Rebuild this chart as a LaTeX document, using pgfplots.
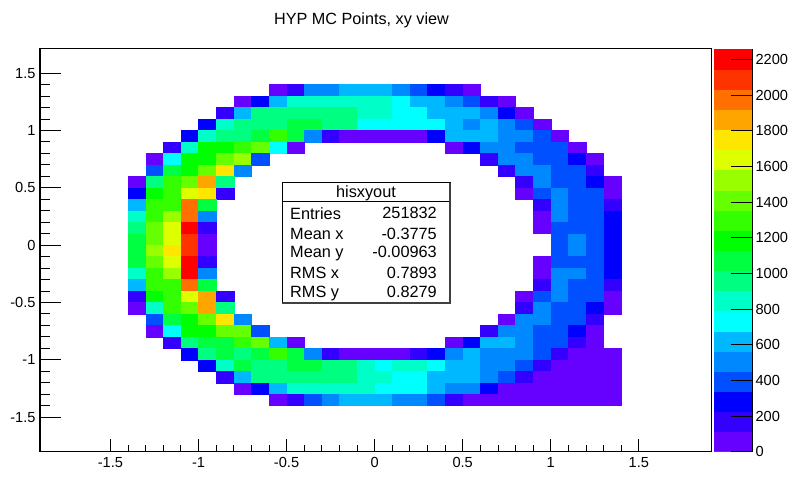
\documentclass[border=0pt]{standalone}
\usepackage{fontspec}
\setmainfont{Liberation Sans}
\usepackage{pgfplots}
\pgfplotsset{compat=1.18}
\newcommand{\tickfont}{\fontsize{14.6}{16}\selectfont}
\pgfplotstableread{
x y z
-0.55 1.35 56
-0.45 1.35 170
-0.35 1.35 508
-0.25 1.35 508
-0.15 1.35 622
-0.05 1.35 622
0.05 1.35 622
0.15 1.35 508
0.25 1.35 396
0.35 1.35 282
0.45 1.35 170
0.55 1.35 56
-0.75 1.25 56
-0.65 1.25 282
-0.55 1.25 622
-0.45 1.25 848
-0.35 1.25 848
-0.25 1.25 848
-0.15 1.25 848
-0.05 1.25 848
0.05 1.25 848
0.15 1.25 734
0.25 1.25 622
0.35 1.25 622
0.45 1.25 508
0.55 1.25 396
0.65 1.25 170
0.75 1.25 56
-0.85 1.15 170
-0.75 1.15 622
-0.65 1.15 960
-0.55 1.15 960
-0.45 1.15 960
-0.35 1.15 960
-0.25 1.15 960
-0.15 1.15 960
-0.05 1.15 848
0.05 1.15 848
0.15 1.15 734
0.25 1.15 734
0.35 1.15 622
0.45 1.15 622
0.55 1.15 622
0.65 1.15 508
0.75 1.15 282
0.85 1.15 56
-0.95 1.05 282
-0.85 1.05 848
-0.75 1.05 960
-0.65 1.05 960
-0.55 1.05 960
-0.45 1.05 1074
-0.35 1.05 1074
-0.25 1.05 960
-0.15 1.05 960
-0.05 1.05 734
0.05 1.05 734
0.15 1.05 734
0.25 1.05 734
0.35 1.05 734
0.45 1.05 622
0.55 1.05 508
0.65 1.05 622
0.75 1.05 508
0.85 1.05 396
0.95 1.05 56
-1.05 0.95 282
-0.95 0.95 848
-0.85 0.95 960
-0.75 0.95 960
-0.65 0.95 1074
-0.55 0.95 1300
-0.45 0.95 1074
-0.35 0.95 508
-0.25 0.95 170
-0.15 0.95 56
-0.05 0.95 56
0.05 0.95 56
0.15 0.95 56
0.25 0.95 56
0.35 0.95 282
0.45 0.95 622
0.55 0.95 622
0.65 0.95 622
0.75 0.95 508
0.85 0.95 508
0.95 0.95 396
1.05 0.95 56
-1.15 0.85 170
-1.05 0.85 848
-0.95 0.85 1186
-0.85 0.85 1186
-0.75 0.85 1300
-0.65 0.85 1412
-0.55 0.85 734
-0.45 0.85 56
0.45 0.85 56
0.55 0.85 282
0.65 0.85 508
0.75 0.85 508
0.85 0.85 396
0.95 0.85 396
1.05 0.85 396
1.15 0.85 56
-1.25 0.75 56
-1.15 0.75 734
-1.05 0.75 1186
-0.95 0.75 1186
-0.85 0.75 1412
-0.75 0.75 1526
-0.65 0.75 396
0.65 0.75 170
0.75 0.75 508
0.85 0.75 508
0.95 0.75 396
1.05 0.75 396
1.15 0.75 282
1.25 0.75 56
-1.25 0.65 396
-1.15 0.65 1074
-1.05 0.65 1186
-0.95 0.65 1412
-0.85 0.65 1752
-0.75 0.65 508
0.75 0.65 170
0.85 0.65 508
0.95 0.65 508
1.05 0.65 396
1.15 0.65 396
1.25 0.65 170
-1.35 0.55 56
-1.25 0.55 960
-1.15 0.55 1300
-1.05 0.55 1412
-0.95 0.55 1864
-0.85 0.55 960
0.85 0.55 170
0.95 0.55 508
1.05 0.55 396
1.15 0.55 396
1.25 0.55 282
1.35 0.55 56
-1.35 0.45 282
-1.25 0.45 1186
-1.15 0.45 1300
-1.05 0.45 1638
-0.95 0.45 1752
-0.85 0.45 170
0.85 0.45 56
0.95 0.45 396
1.05 0.45 508
1.15 0.45 396
1.25 0.45 396
1.35 0.45 56
-1.35 0.35 622
-1.25 0.35 1300
-1.15 0.35 1300
-1.05 0.35 1978
-0.95 0.35 1074
0.95 0.35 170
1.05 0.35 508
1.15 0.35 396
1.25 0.35 396
1.35 0.35 170
-1.35 0.25 848
-1.25 0.25 1300
-1.15 0.25 1526
-1.05 0.25 1978
-0.95 0.25 508
0.95 0.25 56
1.05 0.25 508
1.15 0.25 396
1.25 0.25 396
1.35 0.25 282
-1.35 0.15 960
-1.25 0.15 1412
-1.15 0.15 1638
-1.05 0.15 2204
-0.95 0.15 170
0.95 0.15 56
1.05 0.15 396
1.15 0.15 396
1.25 0.15 396
1.35 0.15 282
-1.35 0.05 1074
-1.25 0.05 1412
-1.15 0.05 1638
-1.05 0.05 2090
-0.95 0.05 56
1.05 0.05 396
1.15 0.05 508
1.25 0.05 396
1.35 0.05 282
-1.35 -0.05 1074
-1.25 -0.05 1526
-1.15 -0.05 1752
-1.05 -0.05 2090
-0.95 -0.05 56
1.05 -0.05 396
1.15 -0.05 508
1.25 -0.05 396
1.35 -0.05 282
-1.35 -0.15 1074
-1.25 -0.15 1412
-1.15 -0.15 1638
-1.05 -0.15 2204
-0.95 -0.15 170
0.95 -0.15 56
1.05 -0.15 396
1.15 -0.15 396
1.25 -0.15 396
1.35 -0.15 282
-1.35 -0.25 848
-1.25 -0.25 1300
-1.15 -0.25 1526
-1.05 -0.25 2204
-0.95 -0.25 508
0.95 -0.25 56
1.05 -0.25 508
1.15 -0.25 508
1.25 -0.25 396
1.35 -0.25 282
-1.35 -0.35 622
-1.25 -0.35 1300
-1.15 -0.35 1300
-1.05 -0.35 1978
-0.95 -0.35 1074
0.95 -0.35 170
1.05 -0.35 508
1.15 -0.35 396
1.25 -0.35 396
1.35 -0.35 170
-1.35 -0.45 170
-1.25 -0.45 1186
-1.15 -0.45 1300
-1.05 -0.45 1638
-0.95 -0.45 1864
-0.85 -0.45 170
0.85 -0.45 56
0.95 -0.45 396
1.05 -0.45 508
1.15 -0.45 396
1.25 -0.45 396
1.35 -0.45 56
-1.35 -0.55 56
-1.25 -0.55 848
-1.15 -0.55 1300
-1.05 -0.55 1412
-0.95 -0.55 1864
-0.85 -0.55 960
0.85 -0.55 170
0.95 -0.55 508
1.05 -0.55 396
1.15 -0.55 396
1.25 -0.55 282
1.35 -0.55 56
-1.25 -0.65 396
-1.15 -0.65 1074
-1.05 -0.65 1186
-0.95 -0.65 1412
-0.85 -0.65 1752
-0.75 -0.65 508
0.75 -0.65 56
0.85 -0.65 508
0.95 -0.65 508
1.05 -0.65 396
1.15 -0.65 396
1.25 -0.65 170
-1.25 -0.75 56
-1.15 -0.75 734
-1.05 -0.75 1186
-0.95 -0.75 1186
-0.85 -0.75 1412
-0.75 -0.75 1412
-0.65 -0.75 396
0.65 -0.75 170
0.75 -0.75 508
0.85 -0.75 508
0.95 -0.75 396
1.05 -0.75 396
1.15 -0.75 282
1.25 -0.75 56
-1.15 -0.85 170
-1.05 -0.85 960
-0.95 -0.85 1074
-0.85 -0.85 1074
-0.75 -0.85 1300
-0.65 -0.85 1412
-0.55 -0.85 622
-0.45 -0.85 56
0.45 -0.85 56
0.55 -0.85 282
0.65 -0.85 622
0.75 -0.85 622
0.85 -0.85 508
0.95 -0.85 396
1.05 -0.85 396
1.15 -0.85 170
1.25 -0.85 56
-1.05 -0.95 282
-0.95 -0.95 960
-0.85 -0.95 1074
-0.75 -0.95 960
-0.65 -0.95 1074
-0.55 -0.95 1300
-0.45 -0.95 1074
-0.35 -0.95 508
-0.25 -0.95 170
-0.15 -0.95 56
-0.05 -0.95 56
0.05 -0.95 56
0.15 -0.95 56
0.25 -0.95 170
0.35 -0.95 282
0.45 -0.95 508
0.55 -0.95 622
0.65 -0.95 508
0.75 -0.95 508
0.85 -0.95 508
0.95 -0.95 396
1.05 -0.95 170
1.15 -0.95 56
1.25 -0.95 56
1.35 -0.95 56
-0.95 -1.05 282
-0.85 -1.05 848
-0.75 -1.05 1074
-0.65 -1.05 960
-0.55 -1.05 960
-0.45 -1.05 1074
-0.35 -1.05 1074
-0.25 -1.05 960
-0.15 -1.05 960
-0.05 -1.05 848
0.05 -1.05 734
0.15 -1.05 848
0.25 -1.05 848
0.35 -1.05 734
0.45 -1.05 622
0.55 -1.05 622
0.65 -1.05 508
0.75 -1.05 508
0.85 -1.05 396
0.95 -1.05 170
1.05 -1.05 56
1.15 -1.05 56
1.25 -1.05 56
1.35 -1.05 56
-0.85 -1.15 170
-0.75 -1.15 622
-0.65 -1.15 960
-0.55 -1.15 960
-0.45 -1.15 960
-0.35 -1.15 960
-0.25 -1.15 960
-0.15 -1.15 960
-0.05 -1.15 848
0.05 -1.15 848
0.15 -1.15 734
0.25 -1.15 734
0.35 -1.15 622
0.45 -1.15 622
0.55 -1.15 622
0.65 -1.15 508
0.75 -1.15 396
0.85 -1.15 170
0.95 -1.15 56
1.05 -1.15 56
1.15 -1.15 56
1.25 -1.15 56
1.35 -1.15 56
-0.75 -1.25 56
-0.65 -1.25 282
-0.55 -1.25 622
-0.45 -1.25 848
-0.35 -1.25 848
-0.25 -1.25 848
-0.15 -1.25 848
-0.05 -1.25 848
0.05 -1.25 734
0.15 -1.25 734
0.25 -1.25 734
0.35 -1.25 622
0.45 -1.25 508
0.55 -1.25 508
0.65 -1.25 282
0.75 -1.25 56
0.85 -1.25 56
0.95 -1.25 56
1.05 -1.25 56
1.15 -1.25 56
1.25 -1.25 56
1.35 -1.25 56
-0.55 -1.35 56
-0.45 -1.35 170
-0.35 -1.35 396
-0.25 -1.35 508
-0.15 -1.35 622
-0.05 -1.35 622
0.05 -1.35 622
0.15 -1.35 508
0.25 -1.35 508
0.35 -1.35 396
0.45 -1.35 170
0.55 -1.35 56
0.65 -1.35 56
0.75 -1.35 56
0.85 -1.35 56
0.95 -1.35 56
1.05 -1.35 56
1.15 -1.35 56
1.25 -1.35 56
1.35 -1.35 56
}\cells
\begin{document}
\begin{tikzpicture}[x=1pt,y=1pt]
\useasboundingbox (-40,-34.3) rectangle (748,451.7);
\begin{axis}[
  at={(0,0)}, anchor=south west, scale only axis,
  width=671pt, height=402.7pt,
  xmin=-1.9, xmax=1.91, ymin=-1.802, ymax=1.71,
  xtick={-1.5,-1,...,1.5}, ytick=\empty,
  minor x tick num=4,
  xtick pos=bottom, tick align=inside,
  major tick length=13pt, minor tick length=7pt,
  tick style={black,line width=0.8pt},
  axis line style={line width=1pt},
  tick label style={font=\tickfont,/pgf/number format/assume math mode=true},
  xticklabel style={yshift=-2pt},
  colormap={rootpal}{
    rgb255=(102,0,255) rgb255=(51,0,255) rgb255=(0,0,255) rgb255=(0,80,255)
    rgb255=(0,136,255) rgb255=(0,184,255) rgb255=(0,255,255) rgb255=(0,255,200)
    rgb255=(0,255,128) rgb255=(0,255,64) rgb255=(0,255,0) rgb255=(51,255,0)
    rgb255=(102,255,0) rgb255=(153,255,0) rgb255=(221,255,0) rgb255=(255,230,0)
    rgb255=(255,165,0) rgb255=(255,112,0) rgb255=(255,51,0) rgb255=(255,0,0)},
  colormap access=piecewise constant,
  point meta min=0, point meta max=2260,
  colorbar sampled,
  colorbar style={
    samples=21,
    at={(1.0045,0)}, anchor=south west,
    width=38pt, height=403pt,
    axis x line=none, axis y line*=right,
    ytick={0,200,...,2200},
    tick align=inside, major tick length=21pt,
    tick style={black,line width=0.8pt},
    axis line style={line width=0.9pt},
    yticklabel style={font=\tickfont,xshift=0pt,
      /pgf/number format/1000 sep={},/pgf/number format/assume math mode=true},
  },
]
\addplot[scatter, only marks, scatter src=explicit,
  scatter/use mapped color={draw=mapped color,fill=mapped color},
  mark=square*, mark size=5.7pt,
  mark options={xscale=1.535,line width=0.15pt}]
  table[x=x,y=y,meta=z] {\cells};
\end{axis}
\begin{axis}[
  at={(0,0)}, anchor=south west, scale only axis,
  width=671pt, height=402.7pt,
  xmin=-1.9, xmax=1.91, ymin=-1.802, ymax=1.71,
  xtick=\empty, ytick={-1.5,-1,...,1.5},
  minor y tick num=4,
  ytick pos=left, tick align=inside,
  major tick length=21pt, minor tick length=10pt,
  tick style={black,line width=0.8pt},
  axis line style={line width=1pt},
  tick label style={font=\tickfont,/pgf/number format/assume math mode=true},
  yticklabel style={xshift=-1pt},
]
\end{axis}
% title
\node[font=\fontsize{16.2}{18}\selectfont,anchor=base] at (321.5,427) {HYP MC Points, xy view};
% stats box
\draw[fill=white,line width=1pt] (242,268.7) rectangle (410,148.4);
\draw[line width=1pt] (242,250) -- (410,250);
\draw[line width=2pt,black!75] (242,148.2) -- (410.3,148.2) -- (410.3,268.7);
\begin{scope}[every node/.style={font=\fontsize{16.3}{18}\selectfont,inner sep=0pt}]
\node[anchor=base] at (326,254.3) {hisxyout};
\node[anchor=base west] at (250,232) {Entries};
\node[anchor=base east] at (397,233) {251832};
\node[anchor=base west] at (250,212) {Mean x};
\node[anchor=base east] at (397,212) {-0.3775};
\node[anchor=base west] at (250,194) {Mean y};
\node[anchor=base east] at (397,194) {-0.00963};
\node[anchor=base west] at (250,173.5) {RMS x};
\node[anchor=base east] at (397,173.5) {0.7893};
\node[anchor=base west] at (250,154) {RMS y};
\node[anchor=base east] at (397,154) {0.8279};
\end{scope}
\end{tikzpicture}
\end{document}
